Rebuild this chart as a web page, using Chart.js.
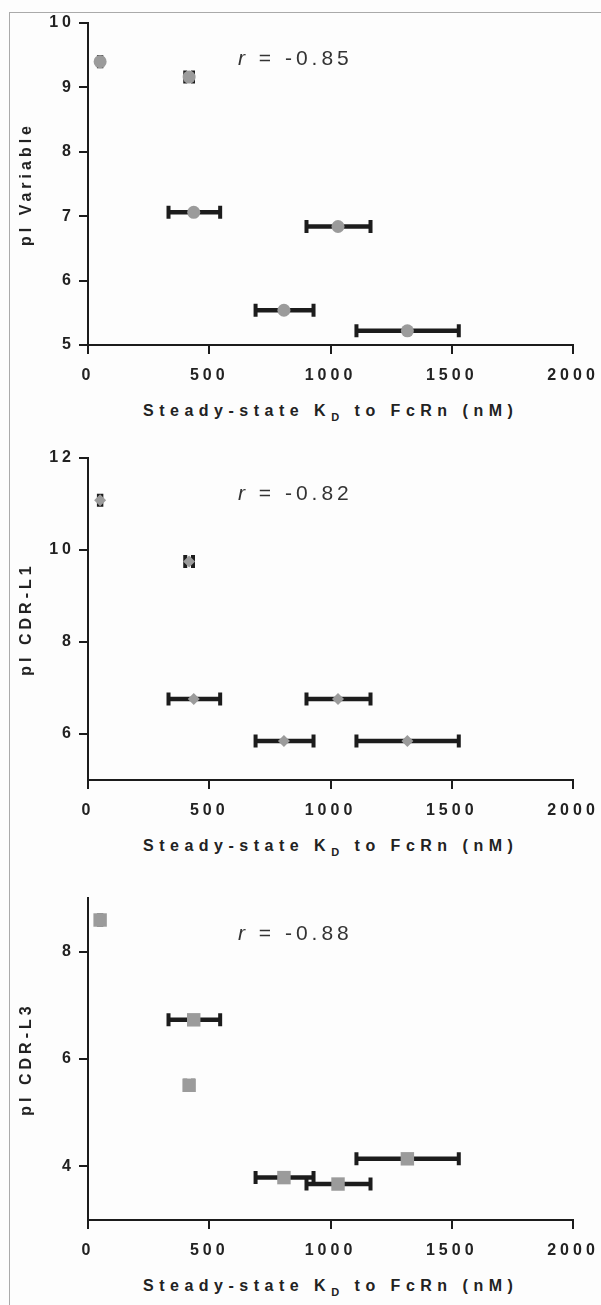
<!DOCTYPE html>
<html>
<head>
<meta charset="utf-8">
<script src="https://cdn.jsdelivr.net/npm/chart.js@4.4.1/dist/chart.umd.min.js"></script>
<style>
  body { margin: 0; background: #fdfdfd; font-family: "Liberation Sans", Arial, sans-serif; }
  #page { position: relative; width: 601px; height: 1305px; overflow: hidden; }
  .frame { position: absolute; left: 9px; top: 12px; right: -2px; bottom: -2px; border-left: 1px solid #aaa; border-top: 1px solid #aaa; }
  .panel { position: absolute; left: 0; width: 601px; height: 435px; }
  .panel canvas { position: absolute; left: 0; top: 0; }
  .rval { position: absolute; left: 238px; top: 47px; font-size: 21px; line-height: 21px; letter-spacing: 4px; color: #333; white-space: nowrap; }
  .xtitle { position: absolute; left: 143px; top: 403px; font-size: 16px; line-height: 16px; font-weight: bold; letter-spacing: 5.5px; color: #222; white-space: nowrap; }
  .xtitle sub { font-size: 11px; vertical-align: -5px; line-height: 0; }
</style>
</head>
<body>
<div id="page">
  <div class="frame"></div>

  <div class="panel" style="top:0px">
    <canvas id="chart-variable" width="601" height="390"></canvas>
    <div class="rval"><i>r</i> = <span id="r-variable"></span></div>
    <div class="xtitle">Steady-state K<sub>D</sub> to FcRn (nM)</div>
  </div>

  <div class="panel" style="top:435px">
    <canvas id="chart-l1" width="601" height="390"></canvas>
    <div class="rval"><i>r</i> = <span id="r-l1"></span></div>
    <div class="xtitle">Steady-state K<sub>D</sub> to FcRn (nM)</div>
  </div>

  <div class="panel" style="top:875px">
    <canvas id="chart-l3" width="601" height="390"></canvas>
    <div class="rval"><i>r</i> = <span id="r-l3"></span></div>
    <div class="xtitle">Steady-state K<sub>D</sub> to FcRn (nM)</div>
  </div>
</div>

<script>
// KD (nM) with error range, same antibodies in all three panels
const kd = [50, 417, 436, 1031, 808, 1317];
const kdLow = [45, 401, 332, 901, 691, 1107];
const kdHigh = [55, 433, 545, 1165, 930, 1529];

// pI values
const pIVariable = [9.40, 9.16, 7.06, 6.84, 5.54, 5.22];
const pICdrL1 = [11.08, 9.75, 6.76, 6.76, 5.85, 5.85];
const pICdrL3 = [8.59, 5.51, 6.73, 3.67, 3.79, 4.14];

// ticks
const xTicks = [0, 500, 1000, 1500, 2000];
const yTicksVariable = [5, 6, 7, 8, 9, 10];
const yTicksL1 = [6, 8, 10, 12];
const yTicksL3 = [4, 6, 8];

const rValues = ['-0.85', '-0.82', '-0.88'];

const dark = '#1c1c1c';
const markerGray = '#9b9b9b';
const fontFamily = '"Liberation Sans", Arial, sans-serif';

// canvas has no letter-spacing option in Chart.js, set it on the context
const spacingPlugin = {
  id: 'spacing',
  beforeUpdate(chart) { chart.ctx.letterSpacing = '4px'; },
  beforeDraw(chart) { chart.ctx.letterSpacing = '4px'; }
};

// horizontal error bars, drawn under the markers
const errorBars = {
  id: 'errorBars',
  beforeDatasetsDraw(chart) {
    const ctx = chart.ctx;
    const xs = chart.scales.x;
    const ys = chart.scales.y;
    const values = chart.data.datasets[0].data;
    ctx.save();
    ctx.strokeStyle = dark;
    values.forEach((p, i) => {
      const x1 = xs.getPixelForValue(kdLow[i]);
      const x2 = xs.getPixelForValue(kdHigh[i]);
      const y = ys.getPixelForValue(p.y);
      ctx.lineWidth = 4.5;
      ctx.beginPath();
      ctx.moveTo(x1, y);
      ctx.lineTo(x2, y);
      ctx.stroke();
      ctx.lineWidth = 4;
      ctx.beginPath();
      ctx.moveTo(x1, y - 6.5);
      ctx.lineTo(x1, y + 6.5);
      ctx.moveTo(x2, y - 6.5);
      ctx.lineTo(x2, y + 6.5);
      ctx.stroke();
    });
    ctx.restore();
  }
};

function makeChart(id, yTitle, values, yMin, yMax, yTicks, pointStyle, radius) {
  const ctx = document.getElementById(id).getContext('2d');
  return new Chart(ctx, {
    type: 'scatter',
    data: {
      datasets: [{
        data: kd.map((x, i) => ({ x: x, y: values[i] })),
        pointStyle: pointStyle,
        pointRadius: radius,
        pointHoverRadius: radius,
        pointBackgroundColor: markerGray,
        pointBorderWidth: 0
      }]
    },
    options: {
      responsive: false,
      animation: false,
      devicePixelRatio: 1,
      layout: { padding: { top: 23, right: 28, left: 13, bottom: 0 } },
      plugins: {
        legend: { display: false },
        tooltip: { enabled: false }
      },
      scales: {
        x: {
          type: 'linear',
          min: 0,
          max: 2000,
          afterBuildTicks: axis => { axis.ticks = xTicks.map(v => ({ value: v })); },
          afterFit: axis => {
            axis.height = 45;
            axis.paddingLeft = 0;
            axis.paddingRight = 0;
          },
          border: { display: true, color: dark, width: 2 },
          grid: { drawOnChartArea: false, drawTicks: true, tickLength: 9, color: dark, lineWidth: 2 },
          ticks: {
            color: '#222',
            padding: 12,
            maxRotation: 0,
            callback: v => String(v),
            font: { family: fontFamily, size: 16, weight: 'bold' }
          }
        },
        y: {
          type: 'linear',
          min: yMin,
          max: yMax,
          afterBuildTicks: axis => { axis.ticks = yTicks.map(v => ({ value: v })); },
          afterFit: axis => {
            axis.width = 75;
            axis.paddingTop = 0;
            axis.paddingBottom = 0;
          },
          border: { display: true, color: dark, width: 2 },
          grid: { drawOnChartArea: false, drawTicks: true, tickLength: 9, color: dark, lineWidth: 2 },
          ticks: {
            color: '#222',
            padding: 4,
            callback: v => String(v),
            font: { family: fontFamily, size: 16, weight: 'bold' }
          },
          title: {
            display: true,
            text: yTitle,
            color: '#222',
            padding: { top: 4, bottom: 4 },
            font: { family: fontFamily, size: 16, weight: 'bold' }
          }
        }
      }
    },
    plugins: [spacingPlugin, errorBars]
  });
}

makeChart('chart-variable', 'pI Variable', pIVariable, 5, 10, yTicksVariable, 'circle', 6.5);
makeChart('chart-l1', 'pI CDR-L1', pICdrL1, 5, 12, yTicksL1, 'rectRot', 6);
makeChart('chart-l3', 'pI CDR-L3', pICdrL3, 3, 9, yTicksL3, 'rect', 9.5);

document.getElementById('r-variable').textContent = rValues[0];
document.getElementById('r-l1').textContent = rValues[1];
document.getElementById('r-l3').textContent = rValues[2];
</script>
</body>
</html>
